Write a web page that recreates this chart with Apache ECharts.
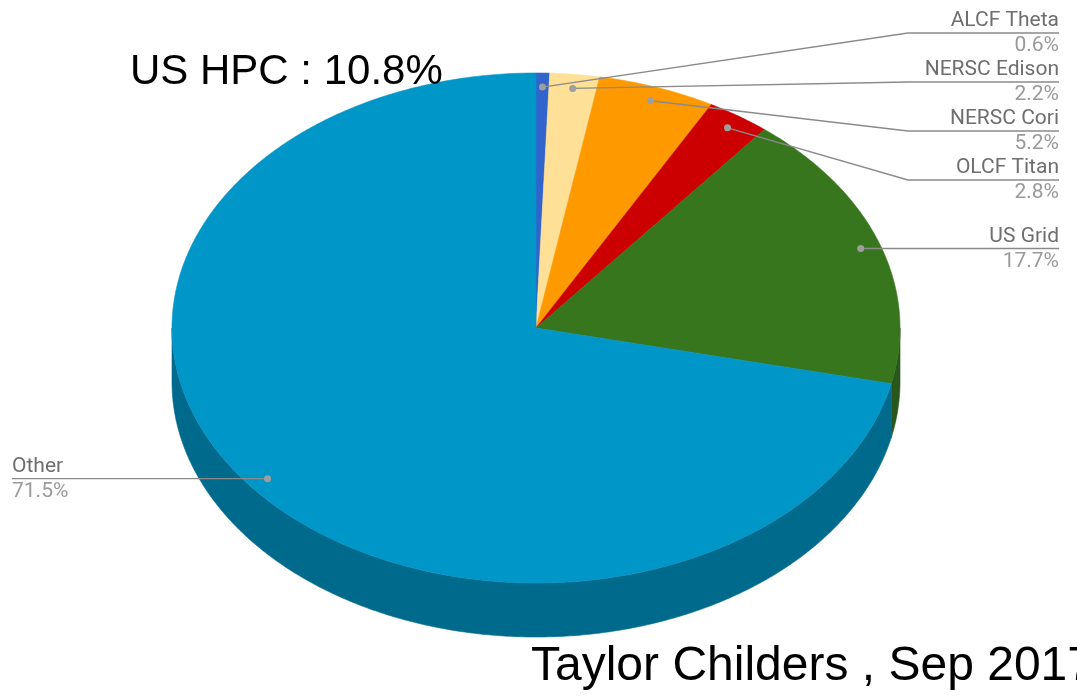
<!DOCTYPE html>
<html>
<head>
<meta charset="utf-8">
<script src="https://cdn.jsdelivr.net/npm/echarts@6/dist/echarts.min.js"></script>
<style>
  html, body { margin: 0; padding: 0; background: #fff; overflow: hidden; }
  #chart { width: 1077px; height: 696px; }
</style>
</head>
<body>
<div id="chart"></div>
<script>
// data, clockwise from 12 o'clock
const categories = ['ALCF Theta', 'NERSC Edison', 'NERSC Cori', 'OLCF Titan', 'US Grid', 'Other'];
const shares = [0.6, 2.2, 5.2, 2.8, 17.7, 71.5];
const hpcCount = 4; // first four are the US HPC centres

const topColors = ['#3264cc', '#fee096', '#ff9900', '#cc0000', '#38761d', '#0096c7'];
const sideColors = ['#23468f', '#b29d69', '#b36b00', '#8f0000', '#29561a', '#006a8c'];

// geometry of the tilted pie
const CX = 536, CY = 328, RX = 364, RY = 255, DEPTH = 54;
const ANCHOR_R = 0.945;
const GAP = 49, MIN_LINE_Y = 33;
const RIGHT_BEND = 908, RIGHT_END = 1059;
const LEFT_BEND = 163, LEFT_END = 12;

const total = shares.reduce((s, v) => s + v, 0);
const starts = [];
const ends = [];
let acc = 0;
shares.forEach(v => {
    starts.push(acc / total * Math.PI * 2);
    acc += v;
    ends.push(acc / total * Math.PI * 2);
});

function ellipsePoint(t, r, dy) {
    return [CX + RX * r * Math.sin(t), CY - RY * r * Math.cos(t) + dy];
}

function arc(a, b, dy) {
    const pts = [];
    const n = Math.max(2, Math.ceil((b - a) / (Math.PI / 360)));
    for (let k = 0; k <= n; k++) {
        pts.push(ellipsePoint(a + (b - a) * k / n, 1, dy));
    }
    return pts;
}

function layoutLabels() {
    const items = categories.map((name, i) => {
        const mid = (starts[i] + ends[i]) / 2;
        const p = ellipsePoint(mid, ANCHOR_R, 0);
        return {i, side: Math.sin(mid) >= 0 ? 'right' : 'left', ax: p[0], ay: p[1], y: p[1]};
    });
    ['right', 'left'].forEach(side => {
        const list = items.filter(d => d.side === side).sort((a, b) => a.ay - b.ay);
        const clusters = list.map(d => ({members: [d], top: Math.max(d.ay, MIN_LINE_Y)}));
        let merged = true;
        while (merged) {
            merged = false;
            for (let k = 0; k < clusters.length - 1; k++) {
                const c = clusters[k], nx = clusters[k + 1];
                if (c.top + c.members.length * GAP > nx.top) {
                    const members = c.members.concat(nx.members);
                    const top = members.reduce((s, d, j) => s + d.ay - j * GAP, 0) / members.length;
                    clusters.splice(k, 2, {members, top: Math.max(top, MIN_LINE_Y)});
                    merged = true;
                    break;
                }
            }
        }
        clusters.forEach(c => c.members.forEach((d, j) => { d.y = c.top + j * GAP; }));
    });
    return items;
}
const labels = layoutLabels();

function renderItem(params, api) {
    const i = params.dataIndex;
    const a0 = starts[i];
    const a1 = a0 + api.value(0) / total * Math.PI * 2;
    const children = [];

    // front wall
    const lo = Math.max(a0, Math.PI / 2), hi = Math.min(a1, Math.PI * 1.5);
    if (lo < hi) {
        const pts = arc(lo, hi, 0).concat(arc(lo, hi, DEPTH).reverse());
        children.push({
            type: 'polygon', z2: 1,
            shape: {points: pts},
            style: {fill: sideColors[i], stroke: sideColors[i], lineWidth: 0.6}
        });
    }
    // top face
    children.push({
        type: 'polygon', z2: 10,
        shape: {points: [[CX, CY]].concat(arc(a0, a1, 0))},
        style: {fill: topColors[i], stroke: topColors[i], lineWidth: 0.6}
    });

    // leader + label
    const lb = labels[i];
    const right = lb.side === 'right';
    const bend = right ? RIGHT_BEND : LEFT_BEND;
    const end = right ? RIGHT_END : LEFT_END;
    children.push({
        type: 'polyline', z2: 20,
        shape: {points: [[lb.ax, lb.ay], [bend, lb.y], [end, lb.y]]},
        style: {stroke: '#8a8a8a', lineWidth: 1.4, fill: null}
    });
    children.push({
        type: 'circle', z2: 21,
        shape: {cx: lb.ax, cy: lb.ay, r: 3.5},
        style: {fill: '#9e9e9e'}
    });
    const align = right ? 'right' : 'left';
    children.push({
        type: 'text', z2: 30,
        style: {
            text: categories[i], x: end, y: lb.y - 12,
            font: '21px Roboto', fill: '#6e6e6e',
            textAlign: align, textVerticalAlign: 'middle', align: align, verticalAlign: 'middle'
        }
    });
    children.push({
        type: 'text', z2: 30,
        style: {
            text: api.value(0).toFixed(1) + '%', x: end, y: lb.y + 13,
            font: '21px Roboto', fill: '#9a9a9a',
            textAlign: align, textVerticalAlign: 'middle', align: align, verticalAlign: 'middle'
        }
    });
    return {type: 'group', children};
}

const hpcShare = shares.slice(0, hpcCount).reduce((s, v) => s + v, 0);

const chart = echarts.init(document.getElementById('chart'), null, {renderer: 'canvas'});
chart.setOption({
    animation: false,
    series: [{
        type: 'custom',
        coordinateSystem: 'none',
        renderItem: renderItem,
        data: shares.map((v, i) => ({name: categories[i], value: v}))
    }],
    graphic: [
        {
            type: 'text', z: 100, x: 130, y: 72,
            style: {
                text: 'US HPC : ' + hpcShare.toFixed(1) + '%',
                font: '42px "Liberation Sans", Arial, sans-serif', fill: '#000',
                textVerticalAlign: 'middle', verticalAlign: 'middle'
            }
        },
        {
            type: 'text', z: 100, x: 531, y: 667,
            style: {
                text: 'Taylor Childers , Sep 2017',
                font: '48px "Liberation Sans", Arial, sans-serif', fill: '#000',
                textVerticalAlign: 'middle', verticalAlign: 'middle'
            }
        }
    ]
});
</script>
</body>
</html>
